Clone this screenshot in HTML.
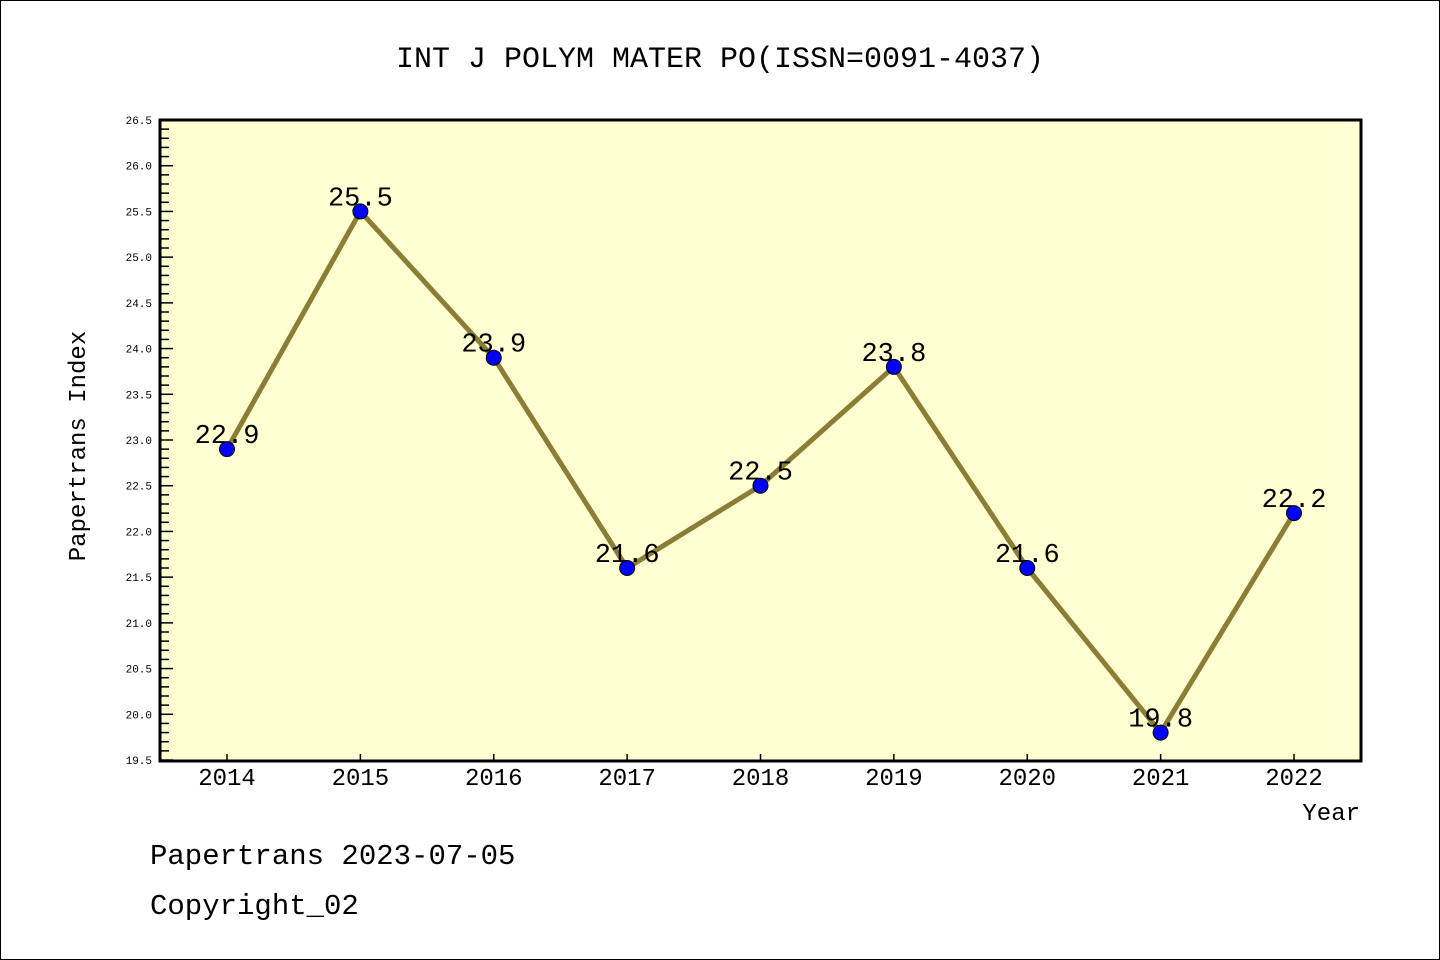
<!DOCTYPE html>
<html><head><meta charset="utf-8"><style>
html,body{margin:0;padding:0;background:#fff}
svg{display:block}
text{font-family:"Liberation Mono","Noto Sans CJK SC",monospace;fill:#000}
</style></head><body>
<svg id="c" width="1440" height="960" xmlns="http://www.w3.org/2000/svg">
<rect x="0.5" y="0.5" width="1439" height="959" fill="#fff" stroke="#000"/>
<text x="720" y="67" font-size="30" text-anchor="middle">INT J POLYM MATER PO(ISSN=0091-4037)</text>
<rect x="160" y="120" width="1201" height="641" fill="#ffffd2"/>
<g id="g"></g>
<rect x="160" y="120" width="1201" height="641" fill="none" stroke="#000" stroke-width="3"/>
<text x="85" y="446" font-size="24" text-anchor="middle" transform="rotate(-90 85 446)">Papertrans Index</text>
<text x="1360" y="820" font-size="24" text-anchor="end">Year</text>
<text x="150" y="864" font-size="29">Papertrans 2023-07-05</text>
<text x="150" y="914" font-size="29">Copyright_02</text>
</svg>
<script>
const years = ["2014","2015","2016","2017","2018","2019","2020","2021","2022"];
const values = [22.9,25.5,23.9,21.6,22.5,23.8,21.6,19.8,22.2];
const labels = ["22.9","25.5","23.9","21.6","22.5","23.8","21.6","19.8","22.2"];
const yTicks = ["19.5","20.0","20.5","21.0","21.5","22.0","22.5","23.0","23.5","24.0","24.5","25.0","25.5","26.0","26.5"];
const NS="http://www.w3.org/2000/svg";
const gEl=document.getElementById('g');
const yMin=19.5,yMax=26.5,plotTop=120,plotBot=760;
const yS=v=>plotBot-(v-yMin)/(yMax-yMin)*(plotBot-plotTop);
const xS=i=>227+i*(1294-227)/(years.length-1);
function mk(t,a){const e=document.createElementNS(NS,t);for(const k in a)e.setAttribute(k,a[k]);gEl.appendChild(e);return e;}
for(let k=0;k<=Math.round((yMax-yMin)*10);k++){
  const v=yMin+k/10, major=k%5===0;
  const l=mk('line',{x1:160,x2:major?173:169,y1:yS(v),y2:yS(v),stroke:'#000','stroke-width':1.5});
  
  
}
yTicks.forEach(t=>{
  const e=mk('text',{x:152,y:yS(+t)+4,'font-size':11,'text-anchor':'end'});e.textContent=t;
  
  
});
years.forEach((yr,i)=>{
  const l=mk('line',{x1:xS(i),x2:xS(i),y1:760,y2:754,stroke:'#000','stroke-width':1.5});
  
  
  const e=mk('text',{x:xS(i),y:785,'font-size':24,'text-anchor':'middle'});e.textContent=yr;
  
  
});
const pl=mk('polyline',{points:values.map((v,i)=>xS(i)+','+yS(v)).join(' '),fill:'none',stroke:'#8b7d35','stroke-width':5,'stroke-linejoin':'round'});


values.forEach((v,i)=>{
  const c=mk('circle',{cx:xS(i),cy:yS(v),r:7.5,fill:'#0000ff',stroke:'#000','stroke-width':1});
  
  
  const t=mk('text',{x:xS(i),y:yS(v)-6,'font-size':27,'text-anchor':'middle'});t.textContent=labels[i];
  
  
});
</script>
</body></html>
